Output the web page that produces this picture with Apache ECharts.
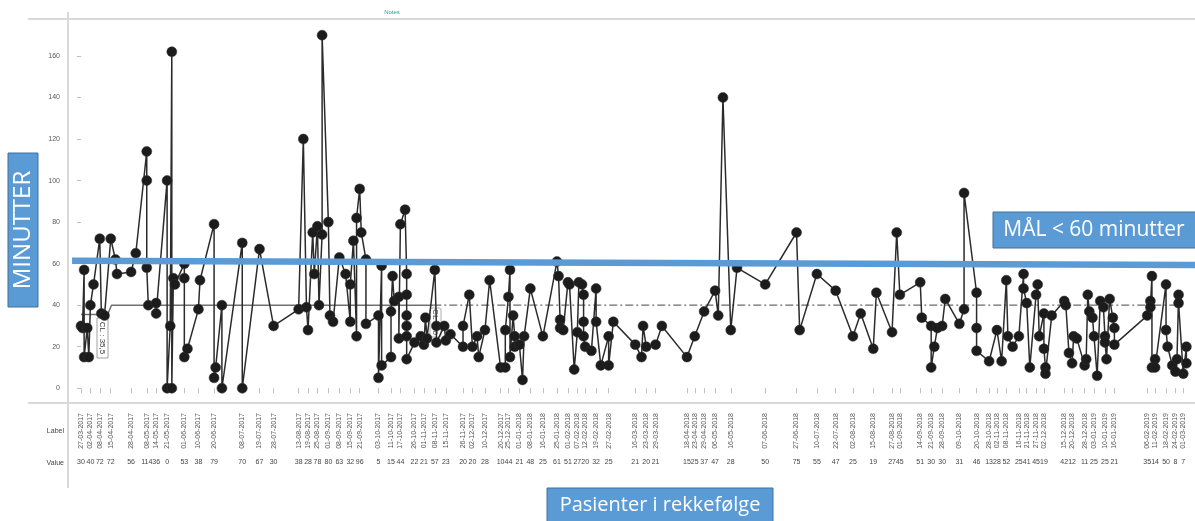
<!DOCTYPE html>
<html>
<head>
<meta charset="utf-8">
<script src="https://cdn.jsdelivr.net/npm/echarts@6/dist/echarts.min.js"></script>
<style>
html, body { margin: 0; padding: 0; background: #fff; }
#chart { width: 1195px; height: 521px; }
</style>
</head>
<body>
<div id="chart"></div>
<script>
// dag = dager etter 27-03-2017, minutter = tid for hver pasient (i rekkefølge)
var startDato = Date.UTC(2017, 2, 27);

var dag = [
  0,1,2,2,4,5,6,8,12,13, 15,19,22,23,32,35,42,42,42,43,
  48,48,55,55,57,58,58,59,60,66, 66,66,68,75,76,85,85,86,90,90,
  103,103,114,123,
  139,142,144,145,148,149,151,152,154,154, 158,159,161,165,169,172,172,174,176,176,
  178,179,182,182,190,190,192,192,198,198, 199,200,203,203,204,207,208,208,208,208,
  208,208,213,217,219,220,221,226,227,227, 232,233,236,244,244,248,250,253,254,258,
  261,268,271,271,273,274,274,276,277,277, 280,282,283,287,295,304,305,306,306,308,
  311,312,315,317,318,320,321,321,321,322, 326,329,329,332,337,337,340,
  354,358,359,361,367,371,387,392,398,405, 407,410,415,419,437,457,459,470,482,493,
  498,506,508,518,521,523,536,537,543,543, 545,547,550,552,561,564,564,572,572,572,
  580,585,588,591,592,595,599,602,602,604, 606,610,611,612,615,615,616,616,620,628,
  629,631,633,634,636,641,642,643,644,646, 647,649,651,653,654,654,655,657,659,660,
  660,681,683,683,684,684,686,686,693,693, 694,697,699,700,701,701,704,706,706
];
var minutter = [
  30,29,57,15,29,15,40,50,72,36, 35,72,62,55,56,65,114,100,58,40,
  41,36,100,0,30,162,0,53,50,60, 53,15,19,38,52,79,5,10,40,0,
  70,0,67,30,
  38,120,39,28,75,55,78,40,74,170, 80,35,32,63,55,32,50,71,25,82,
  96,75,62,31,35,5,59,11,15,37, 54,42,44,24,79,86,55,45,35,30,
  25,14,22,25,21,34,24,57,30,22, 30,23,26,20,30,45,20,25,15,28,
  52,10,10,28,44,57,15,35,25,20, 21,4,25,48,25,61,54,33,29,28,
  51,50,9,27,51,50,45,32,25,20, 18,48,32,11,25,11,32,
  21,15,30,20,21,30,15,25,37,47, 35,140,28,58,50,75,28,55,47,25,
  36,19,46,27,75,45,51,34,30,10, 20,29,30,43,31,38,94,46,29,18,
  13,28,13,52,25,20,25,55,48,41, 10,45,50,25,36,19,10,7,35,42,
  40,17,12,25,24,11,14,45,37,34, 25,6,42,39,25,22,14,43,34,29,
  21,35,42,39,54,10,14,10,50,28, 20,11,8,14,45,41,7,20,12
];

// etiketter i tabellen under aksen
var etikettDatoer = [
  '27-03-2017','02-04-2017','08-04-2017','15-04-2017','28-04-2017','08-05-2017','14-05-2017','21-05-2017','01-06-2017','10-06-2017',
  '20-06-2017','08-07-2017','19-07-2017','28-07-2017','13-08-2017','19-08-2017','25-08-2017','01-09-2017','08-09-2017','15-09-2017',
  '21-09-2017','03-10-2017','11-10-2017','17-10-2017','26-10-2017','01-11-2017','08-11-2017','15-11-2017','26-11-2017','02-12-2017',
  '10-12-2017','20-12-2017','25-12-2017','01-01-2018','08-01-2018','16-01-2018','25-01-2018','01-02-2018','07-02-2018','12-02-2018',
  '19-02-2018','27-02-2018','16-03-2018','23-03-2018','29-03-2018','18-04-2018','23-04-2018','29-04-2018','06-05-2018','16-05-2018',
  '07-06-2018','27-06-2018','10-07-2018','22-07-2018','02-08-2018','15-08-2018','27-08-2018','01-09-2018','14-09-2018','21-09-2018',
  '28-09-2018','09-10-2018','20-10-2018','28-10-2018','02-11-2018','08-11-2018','16-11-2018','21-11-2018','27-11-2018','02-12-2018',
  '15-12-2018','20-12-2018','28-12-2018','03-01-2019','10-01-2019','16-01-2019','06-02-2019','11-02-2019','18-02-2019','24-02-2019',
  '01-03-2019'
];
var etikettVerdier = [
  30,40,72,72,56,114,36,0,53,38,
  79,70,67,30,38,28,78,80,63,32,
  96,5,15,44,22,21,57,23,20,20,
  28,10,44,21,48,25,61,51,27,20,
  32,25,21,20,21,15,25,37,47,28,
  50,75,55,47,25,19,27,45,51,30,
  30,31,46,13,28,52,25,41,45,19,
  42,12,11,25,25,21,35,14,50,8,
  7
];

// senterlinje (CL) og mål
var clDag = [0, 17, 19.5, 225];
var clVerdi = [35.5, 35.5, 40, 40];
var clStipletDag = [225, 705];
var clStipletVerdi = [40, 40];
var maalDag = [-5.7, 711.5];
var maalVerdi = [61.4, 59.4];
var yTicks = [0, 20, 40, 60, 80, 100, 120, 140, 160];

function tilDag(s) {
  var p = s.split('-');
  return Math.round((Date.UTC(+p[2], +p[1] - 1, +p[0]) - startDato) / 86400000);
}
var etikettDag = etikettDatoer.map(tilDag);
var datoFraDag = {}, verdiFraDag = {};
for (var i = 0; i < etikettDag.length; i++) {
  datoFraDag[etikettDag[i]] = etikettDatoer[i];
  verdiFraDag[etikettDag[i]] = String(etikettVerdier[i]);
}

function par(xs, ys) {
  var out = [];
  for (var i = 0; i < xs.length; i++) out.push([xs[i], ys[i]]);
  return out;
}

var chart = echarts.init(document.getElementById('chart'));
var liten = 'Liberation Sans, Arial, sans-serif';

var option = {
  animation: false,
  backgroundColor: '#fff',
  grid: { left: 68, right: 0, top: 19, bottom: 118 },
  xAxis: [
    {
      type: 'value',
      min: -8.3, max: 711.5,
      splitLine: { show: false },
      axisLine: { show: false },
      axisTick: { show: true, customValues: etikettDag, length: 5, lineStyle: { color: '#bfbfbf' } },
      axisLabel: {
        customValues: etikettDag,
        rotate: 90, margin: 10,
        fontSize: 7, color: '#555', fontFamily: liten,
        formatter: function (v) { return datoFraDag[v] || ''; }
      }
    },
    {
      type: 'value',
      position: 'bottom',
      offset: 50,
      min: -8.3, max: 711.5,
      splitLine: { show: false },
      axisLine: { show: false },
      axisTick: { show: false },
      axisLabel: {
        customValues: etikettDag,
        margin: 6,
        fontSize: 7, color: '#444', fontFamily: liten,
        formatter: function (v) { return verdiFraDag[v] || ''; }
      }
    }
  ],
  yAxis: {
    type: 'value',
    min: -7.1, max: 177.8,
    splitLine: { show: false },
    axisLine: { show: false },
    axisTick: { show: true, customValues: yTicks, length: 4, lineStyle: { color: '#bfbfbf' } },
    axisLabel: { customValues: yTicks, margin: 8, fontSize: 7, color: '#595959', fontFamily: liten }
  },
  series: [
    {
      type: 'line',
      data: par(clDag, clVerdi),
      symbol: 'none',
      lineStyle: { color: '#707070', width: 1.5 },
      z: 1
    },
    {
      type: 'line',
      data: par(clStipletDag, clStipletVerdi),
      symbol: 'none',
      lineStyle: { color: '#6a6a6a', width: 1.2, type: [8, 3, 2, 3] },
      z: 1
    },
    {
      type: 'line',
      data: par(dag, minutter),
      showAllSymbol: true,
      symbol: 'circle',
      symbolSize: 10,
      itemStyle: { color: '#1c1c1c', borderColor: '#333', borderWidth: 0.5 },
      lineStyle: { color: '#2b2b2b', width: 1.5 },
      z: 3
    },
    {
      type: 'line',
      data: par(maalDag, maalVerdi),
      symbol: 'none',
      lineStyle: { color: '#5b9bd5', width: 6.5 },
      z: 5
    }
  ],
  graphic: [
    { type: 'line', shape: { x1: 28, y1: 19, x2: 1195, y2: 19 }, style: { stroke: '#d9d9d9', lineWidth: 2 }, z: 0 },
    { type: 'line', shape: { x1: 28, y1: 403, x2: 1195, y2: 403 }, style: { stroke: '#d9d9d9', lineWidth: 2 }, z: 0 },
    { type: 'line', shape: { x1: 68, y1: 12, x2: 68, y2: 488 }, style: { stroke: '#d9d9d9', lineWidth: 2 }, z: 0 },
    { type: 'text', x: 64, y: 431, style: { text: 'Label', font: '7px ' + liten, fill: '#444', align: 'right', verticalAlign: 'middle' } },
    { type: 'text', x: 64, y: 463, style: { text: 'Value', font: '7px ' + liten, fill: '#444', align: 'right', verticalAlign: 'middle' } },
    { type: 'text', x: 392, y: 12, style: { text: 'Notes', font: '6px ' + liten, fill: '#2a9d9d', align: 'center', verticalAlign: 'middle' } },
    // CL-merker
    { type: 'rect', x: 97, y: 318, shape: { width: 11, height: 40 }, style: { fill: '#fff', stroke: '#888', lineWidth: 0.8 }, z: 2 },
    { type: 'text', x: 102.5, y: 338, rotation: -Math.PI / 2, style: { text: 'CL : 35,5', font: '8px ' + liten, fill: '#333', align: 'center', verticalAlign: 'middle' }, z: 2 },
    { type: 'rect', x: 430, y: 308, shape: { width: 11, height: 29, r: 2 }, style: { fill: '#fff', stroke: '#999', lineWidth: 0.8 }, z: 1 },
    { type: 'text', x: 435.5, y: 322, rotation: -Math.PI / 2, style: { text: 'CL : 40', font: '8px ' + liten, fill: '#444', align: 'center', verticalAlign: 'middle' }, z: 1 },
    // blå tekstbokser
    { type: 'rect', x: 8, y: 153, shape: { width: 30, height: 154 }, style: { fill: '#5b9bd5', stroke: '#41719c', lineWidth: 1 }, z: 10 },
    { type: 'text', x: 23, y: 230, rotation: Math.PI / 2, style: { text: 'MINUTTER', font: '24px "Open Sans"', fill: '#fff', align: 'center', verticalAlign: 'middle' }, z: 11 },
    { type: 'rect', x: 993, y: 212, shape: { width: 210, height: 36 }, style: { fill: '#5b9bd5', stroke: '#41719c', lineWidth: 1 }, z: 10 },
    { type: 'text', x: 1094, y: 230, style: { text: 'MÅL < 60 minutter', font: '21px "Open Sans"', fill: '#fff', align: 'center', verticalAlign: 'middle' }, z: 11 },
    { type: 'rect', x: 547, y: 488, shape: { width: 226, height: 40 }, style: { fill: '#5b9bd5', stroke: '#41719c', lineWidth: 1 }, z: 10 },
    { type: 'text', x: 660, y: 505, style: { text: 'Pasienter i rekkefølge', font: '20px "Open Sans"', fill: '#fff', align: 'center', verticalAlign: 'middle' }, z: 11 }
  ]
};

chart.setOption(option);
</script>
</body>
</html>
